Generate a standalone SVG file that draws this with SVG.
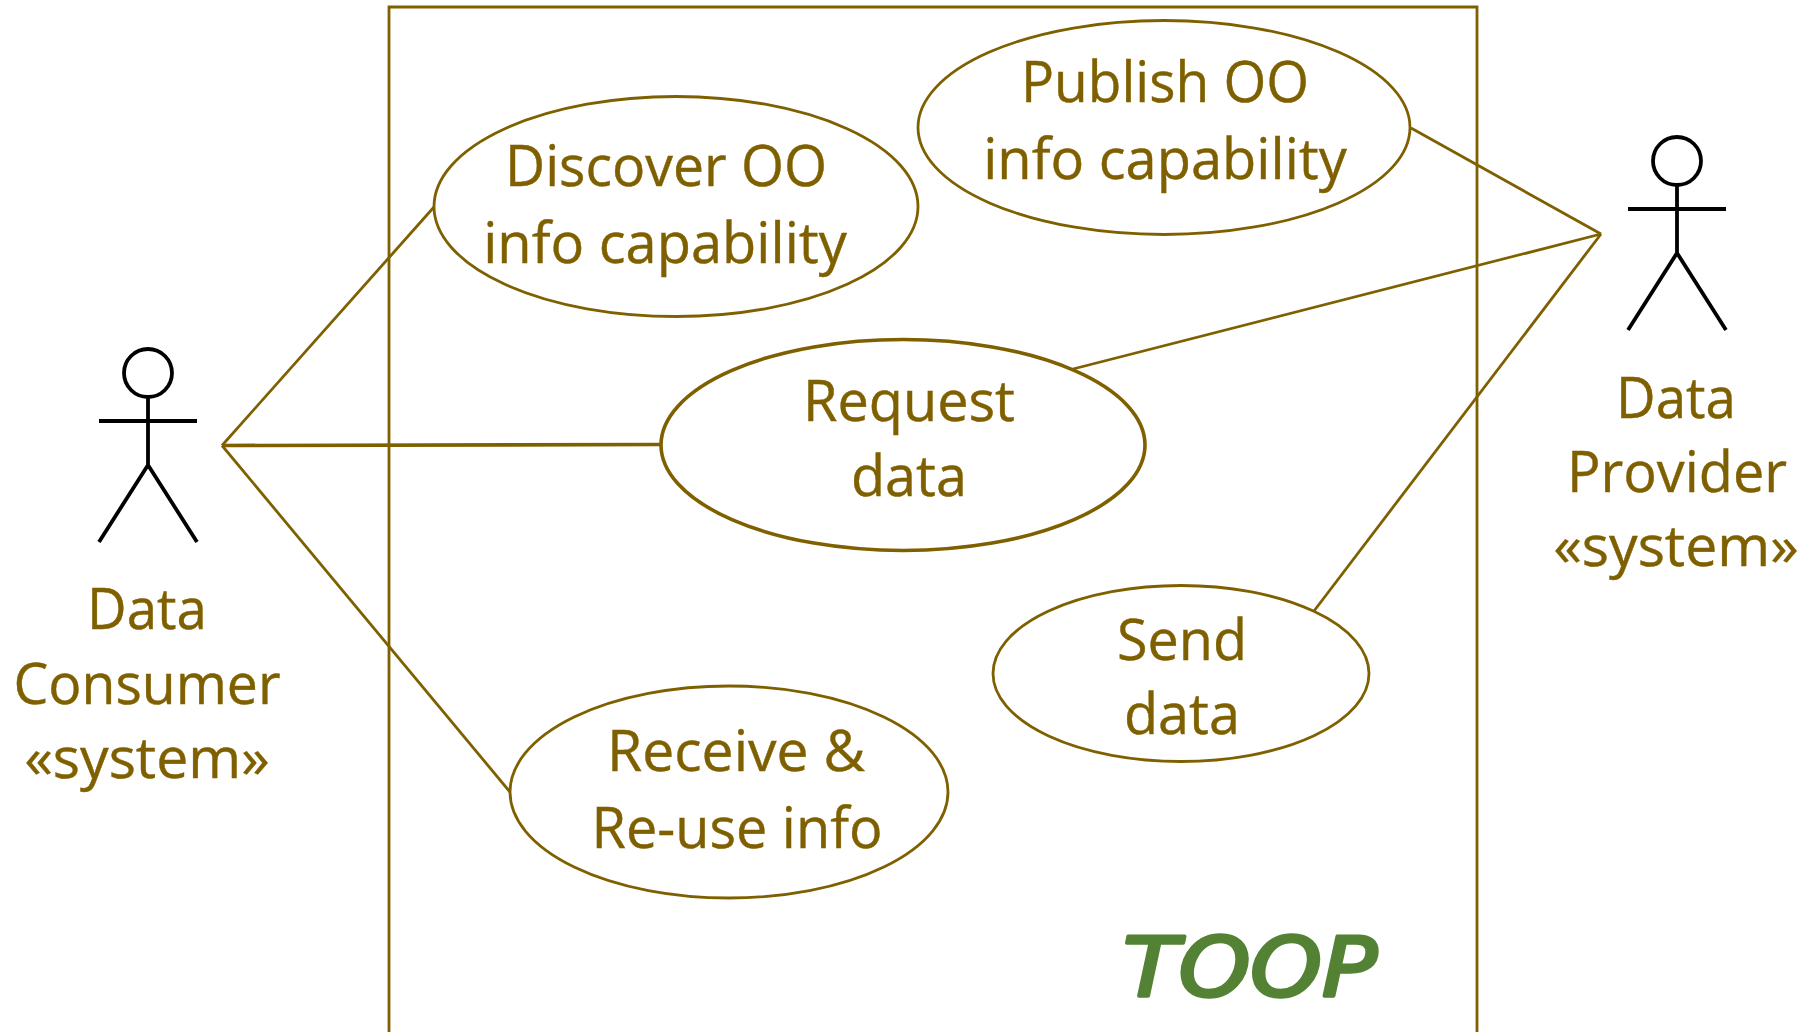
<svg xmlns="http://www.w3.org/2000/svg" width="1804" height="1032" viewBox="0 0 1804 1032">
<style>
.l{fill:none;stroke:#7f6000;stroke-width:2.8}
.e{fill:#fff;stroke:#7f6000;stroke-width:2.8}
.a{fill:none;stroke:#000;stroke-width:3.8}
text{font-family:"Open Sans","Noto Sans",sans-serif;font-size:56px;fill:#7f6000;text-anchor:middle;stroke:#7f6000;stroke-width:.4}
.t{font-family:"DejaVu Sans",sans-serif;font-style:italic;font-size:82px;fill:#548235;stroke:#548235;stroke-width:3.5;stroke-linejoin:round}
</style>
<rect width="1804" height="1032" fill="#fff"/>
<path class="l" d="M389 1032V7H1477V1032"/>
<g id="connectors">
<path class="l" d="M222 445.500L434 207M510 792L222 445.500M1411 128L1601 234M1601 234L1073 369M1601 234L1314 611"/>
<path class="l" style="stroke-width:3.600" d="M222 445.500L661 444.500"/>
</g>
<g id="n1"><ellipse class="e" cx="676" cy="206.500" rx="242" ry="110"/><text x="666" y="186" textLength="322" lengthAdjust="spacingAndGlyphs">Discover OO</text><text x="665" y="263">info capability</text></g>
<g id="n2"><ellipse class="e" cx="1164" cy="127.500" rx="246" ry="107"/><text x="1165" y="102" textLength="288" lengthAdjust="spacingAndGlyphs">Publish OO</text><text x="1165" y="179">info capability</text></g>
<g id="n3"><ellipse class="e" cx="903" cy="445" rx="242" ry="105.500" style="stroke-width:3.6"/><text x="909" y="421" textLength="212" lengthAdjust="spacingAndGlyphs">Request</text><text x="909" y="496" textLength="116" lengthAdjust="spacingAndGlyphs">data</text></g>
<g id="n4"><ellipse class="e" cx="1181" cy="673.500" rx="188" ry="88"/><text x="1182" y="660" textLength="130" lengthAdjust="spacingAndGlyphs">Send</text><text x="1182" y="734" textLength="116" lengthAdjust="spacingAndGlyphs">data</text></g>
<g id="n5"><ellipse class="e" cx="729" cy="792" rx="219" ry="106"/><text x="736" y="771" textLength="258" lengthAdjust="spacingAndGlyphs">Receive &amp;</text><text x="737" y="848" textLength="291" lengthAdjust="spacingAndGlyphs">Re-use info</text></g>
<g id="a1"><circle class="a" cx="148" cy="373" r="24"/><path class="a" d="M148 397V465M99 421H197M148 465L99 542M148 465L197 542"/><text x="147" y="629" textLength="120" lengthAdjust="spacingAndGlyphs">Data</text><text x="147" y="704" textLength="267" lengthAdjust="spacingAndGlyphs">Consumer</text><text x="147" y="778" textLength="245" lengthAdjust="spacingAndGlyphs">«system»</text></g>
<g id="a2"><circle class="a" cx="1677" cy="161" r="24"/><path class="a" d="M1677 185V253M1628 209H1726M1677 253L1628 330M1677 253L1726 330"/><text x="1676" y="418" textLength="120" lengthAdjust="spacingAndGlyphs">Data</text><text x="1677" y="492" textLength="220" lengthAdjust="spacingAndGlyphs">Provider</text><text x="1676" y="566" textLength="245" lengthAdjust="spacingAndGlyphs">«system»</text></g>
<text class="t" x="1250" y="996" textLength="254" lengthAdjust="spacingAndGlyphs">TOOP</text>
</svg>
